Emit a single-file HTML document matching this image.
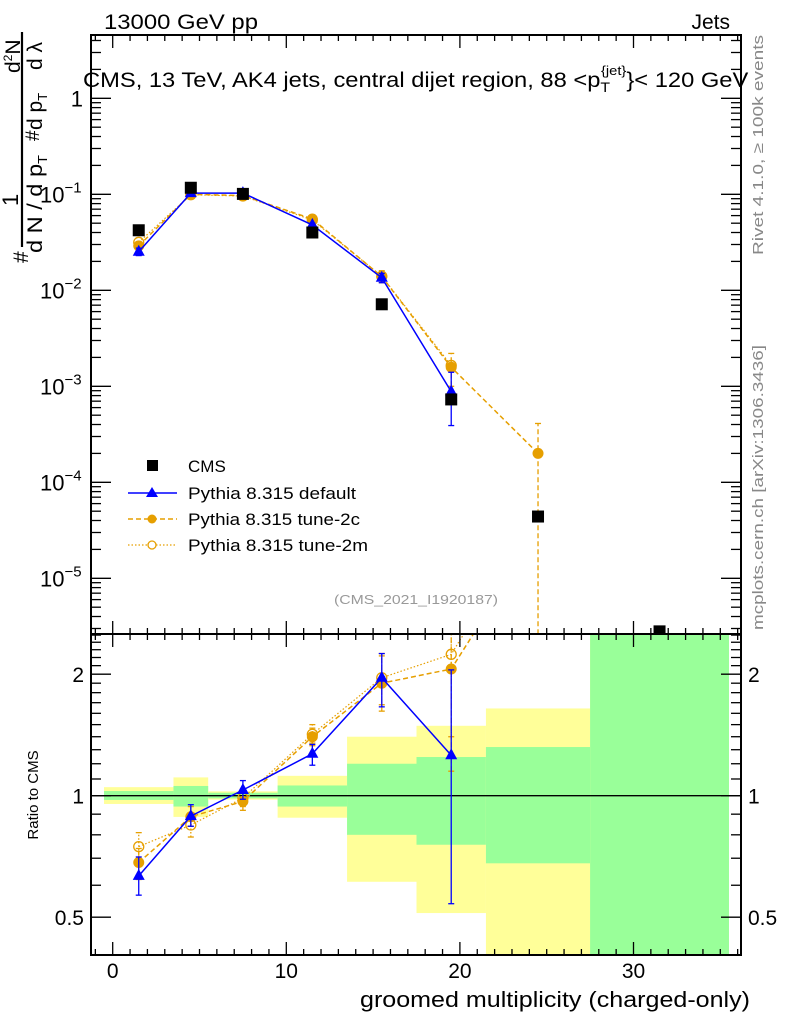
<!DOCTYPE html>
<html><head><meta charset="utf-8"><style>
body{margin:0;background:#fff;}
svg{display:block;font-family:"Liberation Sans",sans-serif;}
</style></head><body>
<svg id="c" width="786" height="1024" viewBox="0 0 786 1024" xmlns="http://www.w3.org/2000/svg">
<text x="104" y="29" font-size="21" textLength="154" lengthAdjust="spacingAndGlyphs">13000 GeV pp</text>
<text x="730" y="29" font-size="21" text-anchor="end">Jets</text>
<text x="0" y="0" font-size="15" fill="#888" textLength="220" lengthAdjust="spacingAndGlyphs" transform="translate(763 255) rotate(-90)">Rivet 4.1.0, ≥ 100k events</text>
<text x="0" y="0" font-size="15" fill="#888" textLength="285" lengthAdjust="spacingAndGlyphs" transform="translate(763 630) rotate(-90)">mcplots.cern.ch [arXiv:1306.3436]</text>
<g font-size="21">
<text transform="translate(28 263) rotate(-90)">#</text>
<text transform="translate(18 206) rotate(-90)" font-size="22">1</text>
<line x1="22" y1="247" x2="22" y2="32" stroke="#000" stroke-width="2.2"/>
<text transform="translate(42 253) rotate(-90)" textLength="98" lengthAdjust="spacingAndGlyphs">d N / d p<tspan font-size="13" dy="5">T</tspan></text>
<text transform="translate(39 141) rotate(-90)" font-size="19">#</text>
<text transform="translate(42 130) rotate(-90)">d p<tspan font-size="13" dy="5">T</tspan></text>
<text transform="translate(42 70) rotate(-90)">d λ</text>
<text transform="translate(20 73) rotate(-90)">d<tspan font-size="12" dy="-8">2</tspan><tspan dy="8">N</tspan></text>
</g>
<text transform="translate(83 87) scale(1.13 1)" font-size="21">CMS, 13 TeV, AK4 jets, central dijet region, 88 &lt;p<tspan font-size="14" dy="5">T</tspan><tspan font-size="13" dy="-17" dx="-8">{jet}</tspan><tspan dy="12">}&lt; 120 GeV</tspan></text>
<text x="416" y="604" font-size="13" fill="#999" text-anchor="middle" textLength="164" lengthAdjust="spacingAndGlyphs">(CMS_2021_I1920187)</text>
<text transform="translate(38 795) rotate(-90)" font-size="15" text-anchor="middle">Ratio to CMS</text>
<text x="750" y="1007" font-size="22" text-anchor="end" textLength="390" lengthAdjust="spacingAndGlyphs">groomed multiplicity (charged-only)</text>
<g id="legend" font-size="17">
<rect x="147" y="460" width="11" height="11" fill="#000"/>
<text x="188" y="472">CMS</text>
<line x1="128" y1="493" x2="177" y2="493" stroke="#00f" stroke-width="1.5"/>
<polygon points="152,487 158,497 146,497" fill="#00f"/>
<text x="188" y="499" textLength="168" lengthAdjust="spacingAndGlyphs">Pythia 8.315 default</text>
<line x1="128" y1="519" x2="177" y2="519" stroke="#e69f00" stroke-width="1.5" stroke-dasharray="5,3"/>
<circle cx="152" cy="519" r="4.5" fill="#e69f00"/>
<text x="188" y="525" textLength="172" lengthAdjust="spacingAndGlyphs">Pythia 8.315 tune-2c</text>
<line x1="128" y1="545" x2="177" y2="545" stroke="#e69f00" stroke-width="1.2" stroke-dasharray="1.5,2"/>
<circle cx="152" cy="545" r="4" fill="#fff" stroke="#e69f00" stroke-width="1.3"/>
<text x="188" y="551" textLength="180" lengthAdjust="spacingAndGlyphs">Pythia 8.315 tune-2m</text>
</g>
</svg>
<script>
const xCenters=[1.5,4.5,7.5,11.5,15.5,19.5,24.5,31.5];
const binEdges=[-0.5,3.5,5.5,9.5,13.5,17.5,21.5,27.5,35.5];
const cmsVals=[0.0422,0.117,0.101,0.040,0.00715,0.00073,0.000044,0.0000028];
const defVals=[0.0252,0.103,0.103,0.048,0.0135,0.00088];
const defErrLo=[0.023,0.100,0.100,0.046,0.0120,0.00039];
const defErrHi=[0.0275,0.106,0.106,0.050,0.0150,0.0014];
const t2cVals=[0.0290,0.100,0.097,0.0553,0.0139,0.00158,0.00020];
const t2cErrHi=[0.031,0.103,0.100,0.058,0.0160,0.0022,0.00041];
const t2cErrLo=[0.027,0.097,0.094,0.053,0.0120,0.0010,0.000001];
const t2mVals=[0.0316,0.099,0.096,0.054,0.0140,0.00165];
const ratioDef=[0.633,0.89,1.033,1.27,1.96,1.26];
const ratioDefLo=[0.567,0.84,0.98,1.19,1.66,0.54];
const ratioDefHi=[0.705,0.95,1.09,1.34,2.25,2.05];
const ratio2c=[0.683,0.887,0.968,1.40,1.90,2.06,4.5];
const ratio2cLo=[0.62,0.84,0.92,1.33,1.62,1.15,4.5];
const ratio2cHi=[0.74,0.94,1.02,1.47,2.22,3,4.5];
const ratio2m=[0.748,0.846,0.987,1.42,1.96,2.24,5];
const ratio2mLo=[0.69,0.79,0.94,1.35,1.68,1.4,5];
const ratio2mHi=[0.81,0.90,1.04,1.50,2.25,3,5];
const bandInnerLo=[0.976,0.94,0.985,0.94,0.80,0.756,0.68,0.3];
const bandInnerHi=[1.027,1.057,1.017,1.06,1.20,1.247,1.32,3];
const bandOuterLo=[0.954,0.886,0.978,0.882,0.612,0.512,0.3,0.3];
const bandOuterHi=[1.05,1.11,1.025,1.12,1.40,1.49,1.645,3];
const xTicks=[0,10,20,30];
const ratioTicks=[0.5,1,2];
const logTicks=[0,-1,-2,-3,-4,-5];

const L=91,R=741,T1=35,B1=634,B2=955;
const X=v=>112.7+(v)*17.36;
const Y=v=>98.3-96*Math.log10(v);
const YR=v=>795.7-121.5*Math.log2(v);
const svg=document.getElementById('c');
const NS='http://www.w3.org/2000/svg';
function mk(tag,at,parent){const e=document.createElementNS(NS,tag);for(const k in at)e.setAttribute(k,at[k]);(parent||svg).appendChild(e);return e;}
const defs=mk('defs',{});
const c1=mk('clipPath',{id:'cp1'},defs);mk('rect',{x:L,y:T1,width:R-L,height:B1-T1},c1);
const c2=mk('clipPath',{id:'cp2'},defs);mk('rect',{x:L,y:B1,width:R-L,height:B2-B1},c2);
const gTop=mk('g',{'clip-path':'url(#cp1)'});


const gBot=mk('g',{'clip-path':'url(#cp2)'});


for(let i=0;i<8;i++){
  const x0=X(binEdges[i]),x1=X(binEdges[i+1]);
  const o=mk('rect',{x:x0,y:YR(bandOuterHi[i]),width:x1-x0,height:YR(bandOuterLo[i])-YR(bandOuterHi[i]),fill:'#ffff99'},gBot);
  
  
  const n=mk('rect',{x:x0,y:YR(bandInnerHi[i]),width:x1-x0,height:YR(bandInnerLo[i])-YR(bandInnerHi[i]),fill:'#99ff99'},gBot);
  
  
}
mk('line',{x1:L,x2:R,y1:YR(1),y2:YR(1),stroke:'#000','stroke-width':1.3},gBot);
function series(g,vals,yf,col,dash,name,marker,lo,hi,w){
  const pts=vals.map((v,i)=>X(xCenters[i])+','+yf(v)).join(' ');
  const pl=mk('polyline',{points:pts,fill:'none',stroke:col,'stroke-width':w||1.5,'stroke-dasharray':dash||'none'},g);
  
  
  vals.forEach((v,i)=>{
    const x=X(xCenters[i]),y=yf(v);
    if(lo&&hi&&lo[i]!==hi[i]){
      mk('line',{x1:x,x2:x,y1:yf(lo[i]),y2:yf(hi[i]),stroke:col,'stroke-width':1.3,'stroke-dasharray':dash||'none'},g);
      mk('line',{x1:x-3,x2:x+3,y1:yf(lo[i]),y2:yf(lo[i]),stroke:col,'stroke-width':1.3},g);
      mk('line',{x1:x-3,x2:x+3,y1:yf(hi[i]),y2:yf(hi[i]),stroke:col,'stroke-width':1.3},g);
    }
    let m;
    if(marker==='tri')m=mk('polygon',{points:`${x},${y-7} ${x+6},${y+4} ${x-6},${y+4}`,fill:col},g);
    else if(marker==='dot')m=mk('circle',{cx:x,cy:y,r:5.5,fill:col},g);
    else if(marker==='open')m=mk('circle',{cx:x,cy:y,r:5,fill:'none',stroke:col,'stroke-width':1.3},g);
    else m=mk('rect',{x:x-6,y:y-6,width:12,height:12,fill:col},g);
    
    
  });
}
series(gTop,t2mVals,Y,'#e69f00','1.5,2','tune-2m-main','open',null,null,1.2);
series(gTop,t2cVals,Y,'#e69f00','5,3','tune-2c-main','dot',t2cErrLo,t2cErrHi);
series(gTop,defVals,Y,'#0000ff',null,'default-main','tri',defErrLo,defErrHi);
cmsVals.forEach((v,i)=>{const r=mk('rect',{x:X(xCenters[i])-6,y:Y(v)-6,width:12,height:12,fill:'#000'},gTop);
  
  });
series(gBot,ratio2m,YR,'#e69f00','1.5,2','tune-2m-ratio','open',ratio2mLo,ratio2mHi,1.2);
series(gBot,ratio2c,YR,'#e69f00','5,3','tune-2c-ratio','dot',ratio2cLo,ratio2cHi);
series(gBot,ratioDef,YR,'#0000ff',null,'default-ratio','tri',ratioDefLo,ratioDefHi);
const f1=mk('rect',{x:L,y:T1,width:R-L,height:B1-T1,fill:'none',stroke:'#000','stroke-width':2});


const f2=mk('rect',{x:L,y:B1,width:R-L,height:B2-B1,fill:'none',stroke:'#000','stroke-width':2});


const tk={stroke:'#000','stroke-width':1.3};
for(let v=-1;v<=36;v++){
  const x=X(v);if(x<L||x>R)continue;
  const len=v%10===0?13:6;
  [[T1,1],[B1,-1],[B1,1],[B2,-1]].forEach(([y,d])=>mk('line',Object.assign({x1:x,x2:x,y1:y,y2:y+d*len},tk)));
}
xTicks.forEach(v=>{const t=mk('text',{x:X(v),y:978,'font-size':21,'text-anchor':'middle'});t.textContent=v;
  
  });
for(let d=1;d>=-6;d--){
  for(let m=1;m<10;m++){
    const y=Y(m*Math.pow(10,d));if(y<T1||y>B1)continue;
    const len=m===1?20:10;
    mk('line',Object.assign({x1:L,x2:L+len,y1:y,y2:y},tk));
    mk('line',Object.assign({x1:R,x2:R-len,y1:y,y2:y},tk));
  }
}
logTicks.forEach(d=>{
  const t=mk('text',{x:d===0?83:40,y:Y(Math.pow(10,d))+8,'font-size':22,'text-anchor':d===0?'end':'start'});
  
  
  if(d===0)t.textContent='1';
  else{t.textContent='10';const s=document.createElementNS(NS,'tspan');s.setAttribute('dy','-10');s.setAttribute('font-size','15');s.textContent='\u2212'+(-d);t.appendChild(s);}
});
for(let k=4;k<=25;k++){
  const vv=k/10;const y=YR(vv);if(y<B1||y>B2)continue;
  const maj=ratioTicks.includes(vv);const len=maj?20:10;
  mk('line',Object.assign({x1:L,x2:L+len,y1:y,y2:y},tk));
  mk('line',Object.assign({x1:R,x2:R-len,y1:y,y2:y},tk));
}
ratioTicks.forEach(v=>{
  const a=mk('text',{x:84,y:YR(v)+8,'font-size':21,'text-anchor':'end'});a.textContent=v;
  
  
  const b=mk('text',{x:748,y:YR(v)+8,'font-size':21});b.textContent=v;
  
  
});
svg.appendChild(document.getElementById('legend'));
</script>
</body></html>
